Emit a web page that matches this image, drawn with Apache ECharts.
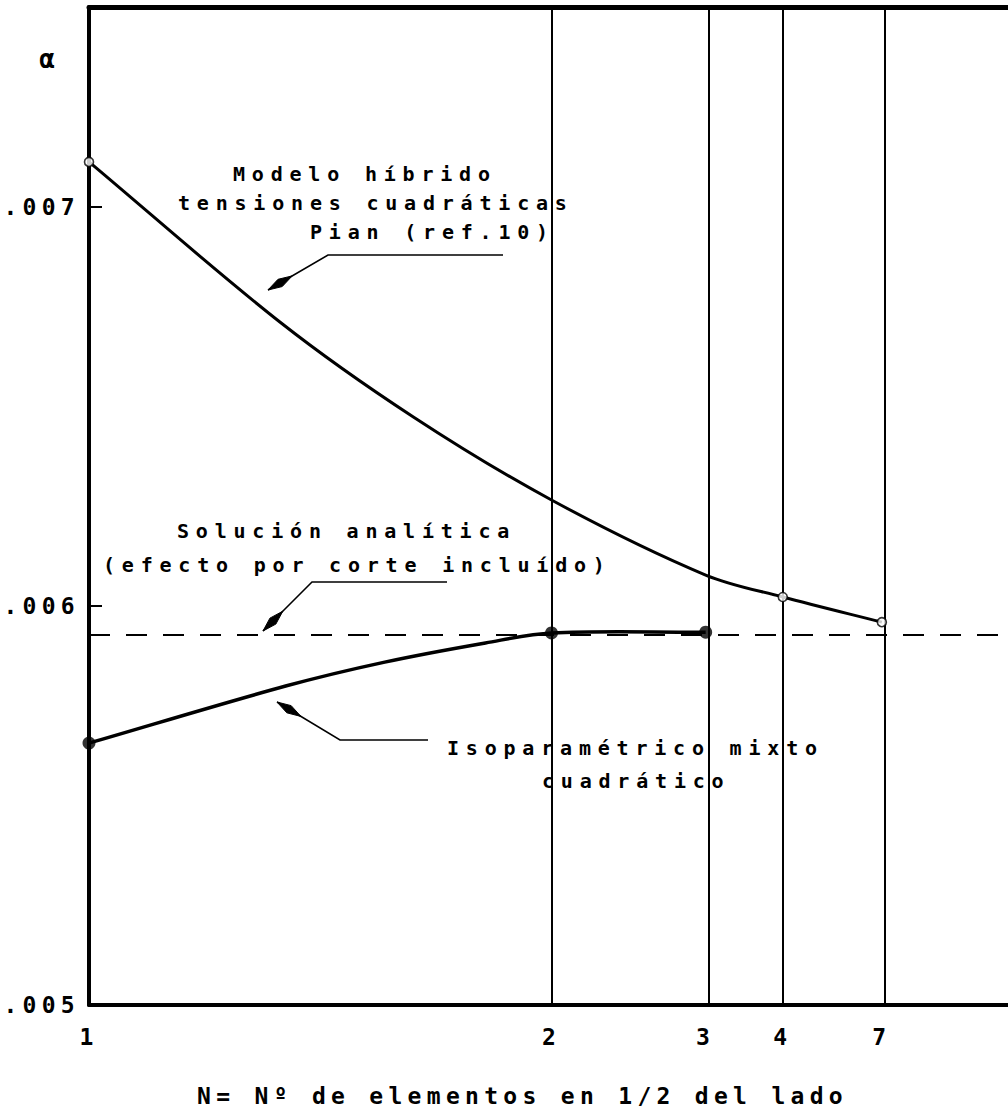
<!DOCTYPE html>
<html><head><meta charset="utf-8">
<script src="https://cdn.jsdelivr.net/npm/echarts@6/dist/echarts.min.js"></script>
<style>
html,body{margin:0;padding:0;background:#fff;}
#c{width:1008px;height:1111px;}
#c svg text{letter-spacing:6.8px;}
</style></head><body><div id="c"></div>
<script>
// ---- data ----
const xTickN = [1, 2, 3, 4, 7];             // N values labelled on the x axis
const gridN = [2, 3, 4, 7];                 // vertical reference lines
const yTicks = [0.005, 0.006, 0.007];       // alpha tick labels
const refAlpha = [0.006];                   // solid horizontal reference line
const analyticAlpha = [0.005927];           // Solución analítica (dashed)
const hybridN = [1, 1.26, 1.54, 2, 3, 4, 7];
const hybridAlpha = [0.007112, 0.006711, 0.006473, 0.006265, 0.006077, 0.006022, 0.005959];
const hybridMarkN = [1, 4, 7];
const isoN = [1, 1.27, 1.47, 1.75, 2, 3];
const isoAlpha = [0.005656, 0.005799, 0.005859, 0.005907, 0.005932, 0.005934];
const isoMarkN = [1, 2, 3];

// x axis is drawn in 1 - 1/N
const toU = n => 1 - 1 / n;
const X_MAX = 0.9935;
const FONT = 'DejaVu Sans Mono';

const chart = echarts.init(document.getElementById('c'), null, {renderer: 'svg'});

function pts(ns, vs) { return ns.map((n, i) => [toU(n), vs[i]]); }
function marks(ns, vs, keep) { return ns.map((n, i) => [n, vs[i]]).filter(p => keep.includes(p[0])).map(p => [toU(p[0]), p[1]]); }

// smooth curve (chord-length Catmull-Rom) through points placed by the axes
function smoothPath(P) {
  const d = (a, b) => Math.hypot(b[0] - a[0], b[1] - a[1]);
  let s = 'M' + P[0][0] + ',' + P[0][1];
  for (let i = 0; i < P.length - 1; i++) {
    const p0 = P[Math.max(i - 1, 0)], p1 = P[i], p2 = P[i + 1], p3 = P[Math.min(i + 2, P.length - 1)];
    const l0 = d(p0, p1), l1 = d(p1, p2), l2 = d(p2, p3);
    const k1 = l1 / (l0 + l1) / 3 * (l0 ? 1 : 1), k2 = l1 / (l1 + l2) / 3;
    const c1 = [p1[0] + (p2[0] - p0[0]) * k1, p1[1] + (p2[1] - p0[1]) * k1];
    const c2 = [p2[0] - (p3[0] - p1[0]) * k2, p2[1] - (p3[1] - p1[1]) * k2];
    s += ' C' + c1[0] + ',' + c1[1] + ' ' + c2[0] + ',' + c2[1] + ' ' + p2[0] + ',' + p2[1];
  }
  return s;
}
function curveSeries(name, data, width) {
  return {
    name: name, type: 'custom', data: data, z: 3, silent: true, encode: {x: 0, y: 1},
    renderItem: (params, api) => {
      if (params.dataIndex !== 0) return null;
      const P = data.map(p => api.coord(p));
      return {type: 'path', shape: {pathData: smoothPath(P)}, style: {stroke: '#000', lineWidth: width, fill: 'none'}};
    }
  };
}

function arrow(tip, elbow, end) {
  const dx = elbow[0] - tip[0], dy = elbow[1] - tip[1];
  const L = Math.hypot(dx, dy), ux = dx / L, uy = dy / L, nx = -uy, ny = ux;
  const head = [
    tip,
    [tip[0] + ux * 14 + nx * 4.2, tip[1] + uy * 14 + ny * 4.2],
    [tip[0] + ux * 28, tip[1] + uy * 28],
    [tip[0] + ux * 14 - nx * 4.2, tip[1] + uy * 14 - ny * 4.2]
  ];
  return [
    {type: 'polyline', shape: {points: [end, elbow, tip]}, style: {stroke: '#000', lineWidth: 1.6, fill: 'none'}},
    {type: 'polygon', shape: {points: head}, style: {fill: '#000', stroke: '#000', lineWidth: 1}}
  ];
}
function txt(x, y, t, size, align) {
  return {type: 'text', x: x, y: y, style: {text: t, fontSize: size || 20, fontFamily: FONT, fontWeight: 'bold',
    fill: '#000', align: align || 'left', verticalAlign: 'middle', textAlign: align || 'left', textVerticalAlign: 'middle'}};
}

const option = {
  animation: false,
  backgroundColor: '#fff',
  grid: {left: 89, right: 0, top: 7, bottom: 106, containLabel: false, outerBoundsMode: 'none'},
  xAxis: [{
    type: 'value', min: 0, max: X_MAX, position: 'bottom',
    axisLine: {lineStyle: {color: '#000', width: 4}},
    axisTick: {show: false}, splitLine: {show: false},
    axisLabel: {customValues: xTickN.map(toU), formatter: v => String(Math.round(1 / (1 - v))),
      fontSize: 23, fontFamily: FONT, fontWeight: 'bold', color: '#000', margin: 20}
  }, {
    type: 'value', min: 0, max: X_MAX, position: 'top',
    axisLine: {lineStyle: {color: '#000', width: 5}},
    axisTick: {show: false}, splitLine: {show: false}, axisLabel: {show: false}
  }],
  yAxis: {
    type: 'value', min: 0.005, max: 0.0075, interval: 0.001,
    axisLine: {lineStyle: {color: '#000', width: 4}},
    axisTick: {inside: true, length: 13, customValues: yTicks, lineStyle: {color: '#000', width: 2}},
    splitLine: {show: false},
    axisLabel: {customValues: yTicks, formatter: v => v.toFixed(3).replace(/^0/, ''),
      fontSize: 23, fontFamily: FONT, fontWeight: 'bold', color: '#000', margin: 9, padding: [8, 0, 0, 0]}
  },
  series: [{
    name: 'Solución analítica', type: 'line', data: [[0, analyticAlpha[0]], [X_MAX, analyticAlpha[0]]],
    symbol: 'none', silent: true, lineStyle: {color: '#000', width: 2, type: [21, 16]},
    markLine: {silent: true, symbol: ['none', 'none'], label: {show: false},
      lineStyle: {color: '#000', width: 2, type: 'solid'},
      data: gridN.map(n => ({xAxis: toU(n)})).concat(refAlpha.map(a => ({yAxis: a})))}
  },
    curveSeries('Modelo híbrido', pts(hybridN, hybridAlpha), 3),
    curveSeries('Isoparamétrico mixto', pts(isoN, isoAlpha), 3.5),
  {
    name: 'híbrido pts', type: 'scatter', data: marks(hybridN, hybridAlpha, hybridMarkN), symbol: 'circle', symbolSize: 9,
    itemStyle: {color: '#fff', borderColor: '#000', borderWidth: 1.6}, z: 5
  }, {
    name: 'iso pts', type: 'scatter', data: marks(isoN, isoAlpha, isoMarkN), symbol: 'circle', symbolSize: 13,
    itemStyle: {color: '#000'}, z: 5
  }],
  graphic: [].concat(
    [txt(47, 59, 'α', 26, 'center'),
     txt(233, 174, 'Modelo híbrido'),
     txt(178, 203, 'tensiones cuadráticas'),
     txt(310, 232, 'Pian (ref.10)'),
     txt(177, 531, 'Solución analítica'),
     txt(103, 565, '(efecto por corte incluído)'),
     txt(447, 748, 'Isoparamétrico mixto'),
     txt(542, 781, 'cuadrático'),
     txt(197, 1096, 'N= Nº de elementos en 1/2 del lado', 23)],
    arrow([268, 290], [328, 255], [503, 255]),
    arrow([263, 631], [312, 582], [447, 582]),
    arrow([277, 702], [340, 740], [428, 740])
  )
};
chart.setOption(option);

function spacing() {
  document.querySelectorAll('#c svg text').forEach(t => {
    const fs = parseFloat(getComputedStyle(t).fontSize);
    if (fs >= 25) t.style.letterSpacing = '0px';
    else if (fs >= 22.5) t.style.letterSpacing = '5.3px';
    else t.style.letterSpacing = '6.8px';
  });
}
chart.on('finished', spacing);
spacing();
</script></body></html>
